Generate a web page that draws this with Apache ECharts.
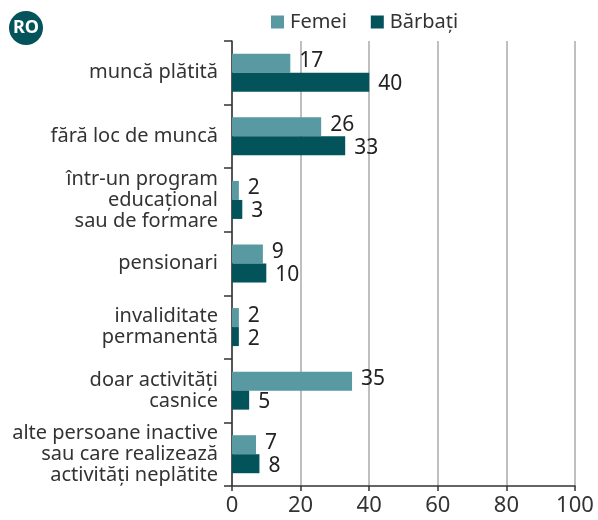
<!DOCTYPE html>
<html>
<head>
<meta charset="utf-8">
<script src="https://cdn.jsdelivr.net/npm/echarts@6/dist/echarts.min.js"></script>
<style>
    html, body { margin: 0; padding: 0; background: #fff; }
    #chart { width: 598px; height: 520px; }
</style>
</head>
<body>
<div id="chart"></div>
<script>
// categorii (de sus in jos)
var categories = [
    'muncă plătită',
    'fără loc de muncă',
    'într-un program\neducațional\nsau de formare',
    'pensionari',
    'invaliditate\npermanentă',
    'doar activități\ncasnice',
    'alte persoane inactive\nsau care realizează\nactivități neplătite'
];
var femei = [17, 26, 2, 9, 2, 35, 7];
var barbati = [40, 33, 3, 10, 2, 5, 8];
var xTicks = [0, 20, 40, 60, 80, 100];

var font = 'Noto Sans';
var colFemei = '#5899a2';
var colBarbati = '#03535b';

var myChart = echarts.init(document.getElementById('chart'));
var option = {
    animation: false,
    textStyle: { fontFamily: font },
    legend: {
        left: 266,
        top: 7,
        itemWidth: 13,
        itemHeight: 13,
        itemGap: 24,
        icon: 'rect',
        textStyle: { fontSize: 20, color: '#333', fontFamily: font, padding: [0, 0, 0, 1] },
        data: ['Femei', 'Bărbați']
    },
    graphic: [
        { type: 'circle', shape: { cx: 26, cy: 28, r: 17 }, style: { fill: colBarbati } },
        { type: 'text', x: 26, y: 28, style: { text: 'RO', fill: '#fff', font: 'bold 18px ' + font, textAlign: 'center', textVerticalAlign: 'middle' } }
    ],
    grid: { left: 232, right: 23, top: 41, bottom: 34 },
    xAxis: {
        type: 'value',
        min: xTicks[0],
        max: xTicks[xTicks.length - 1],
        interval: 20,
        axisLine: { show: true, lineStyle: { color: '#333', width: 1.5 } },
        axisTick: { show: true, length: 5, lineStyle: { color: '#333', width: 1.5 } },
        axisLabel: { fontSize: 22, color: '#333', margin: 9 },
        splitLine: { show: true, lineStyle: { color: '#aaa', width: 1.5 } }
    },
    yAxis: {
        type: 'category',
        inverse: true,
        data: categories,
        axisLine: { show: true, lineStyle: { color: '#333', width: 1.5 } },
        axisTick: { show: true, length: 8, lineStyle: { color: '#333', width: 1.5 } },
        axisLabel: { fontSize: 20, color: '#333', margin: 14, lineHeight: 21, align: 'right' }
    },
    series: [{
        name: 'Femei',
        type: 'bar',
        data: femei,
        barWidth: 19,
        barGap: '0%',
        itemStyle: { color: colFemei },
        label: { show: true, position: 'right', distance: 9, fontSize: 21, color: '#222', offset: [0, -2] }
    }, {
        name: 'Bărbați',
        type: 'bar',
        data: barbati,
        barWidth: 19,
        barGap: '0%',
        itemStyle: { color: colBarbati },
        label: { show: true, position: 'right', distance: 9, fontSize: 21, color: '#222', offset: [0, 2] }
    }]
};
myChart.setOption(option, true);
</script>
</body>
</html>
